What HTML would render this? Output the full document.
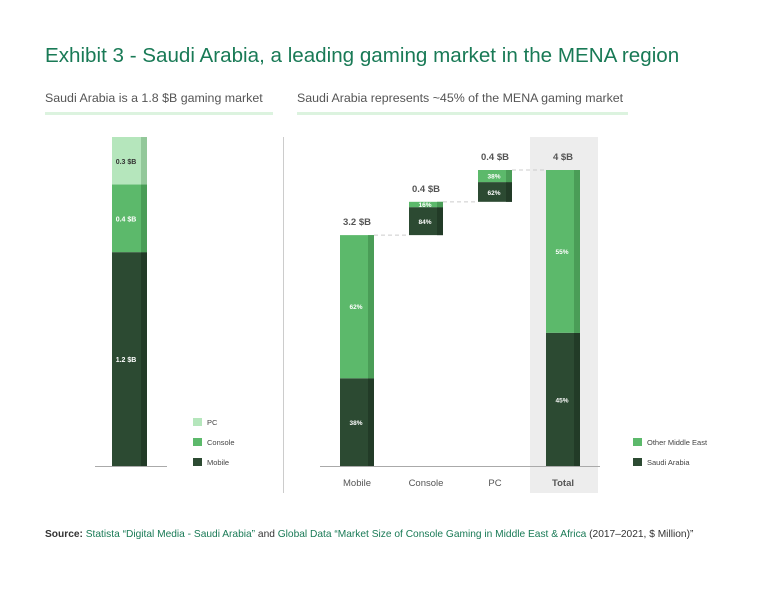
<!DOCTYPE html>
<html><head><meta charset="utf-8">
<style>
body{margin:0;background:#fff;width:768px;height:590px;overflow:hidden;font-family:"Liberation Sans",sans-serif;}
svg text{font-family:"Liberation Sans",sans-serif;}
</style></head>
<body>
<svg id="chart" width="768" height="590" viewBox="0 0 768 590">
<text x="45" y="62" font-size="20.6" fill="#197a56">Exhibit 3 - Saudi Arabia, a leading gaming market in the MENA region</text>
<text x="45" y="102" font-size="12.4" fill="#555">Saudi Arabia is a 1.8 $B gaming market</text>
<rect x="45" y="112" width="228" height="3" fill="#dcf3df"/>
<text x="297" y="102" font-size="12.4" fill="#555">Saudi Arabia represents ~45% of the MENA gaming market</text>
<rect x="297" y="112" width="331" height="3" fill="#dcf3df"/>
<line x1="283.5" y1="137" x2="283.5" y2="493" stroke="#ccc" stroke-width="1"/>
<rect x="530" y="137" width="68" height="356" fill="#ededed"/>
<g id="left"></g><g id="right"></g>
<text x="45" y="537" font-size="10.2" fill="#197a56"><tspan font-weight="bold" fill="#333">Source: </tspan>Statista “Digital Media - Saudi Arabia” <tspan fill="#333">and</tspan> Global Data “Market Size of Console Gaming in Middle East &amp; Africa <tspan fill="#333">(2017–2021, $ Million)”</tspan></text>
</svg>
<script>
const leftCategories=["Mobile","Console","PC"];
const leftValues=[1.17,0.37,0.26];
const leftLabels=["1.2 $B","0.4 $B","0.3 $B"];
const wfCategories=["Mobile","Console","PC","Total"];
const wfValues=[3.12,0.45,0.43,4];
const wfValueLabels=["3.2 $B","0.4 $B","0.4 $B","4 $B"];
const wfSaudiShare=[38,84,62,45];
const NS="http://www.w3.org/2000/svg";
const DARK="#2c4a32",MID="#5cb96b",LIGHT="#b5e6bc";
const SHADE={"#2c4a32":"#223b27","#5cb96b":"#4a9d57","#b5e6bc":"#93c89a"};
function el(tag,attrs,parent,text){const e=document.createElementNS(NS,tag);for(const k in attrs)e.setAttribute(k,attrs[k]);if(text!==undefined)e.textContent=text;parent.appendChild(e);return e;}
function bar(parent,x,y,w,h,color,name){
 const g=el("g",{},parent);
 
 
 el("rect",{x:x,y:y,width:w,height:h,fill:color},g);
 el("rect",{x:x+w-6,y:y,width:6,height:h,fill:SHADE[color]},g);
 return g;}
const L=document.getElementById("left");
const base=466, leftTotal=leftValues.reduce((a,b)=>a+b,0);
const ly=v=>v*329/leftTotal;
let acc=0;const lcolors=[DARK,MID,LIGHT];
leftValues.forEach((v,i)=>{
 const h=ly(v),y=base-ly(acc)-h;
 bar(L,112,y,35,h,lcolors[i],"left-bar-"+leftCategories[i].toLowerCase());
 const t=el("text",{x:126,y:y+h/2+3,"font-size":7,"font-weight":"bold","text-anchor":"middle",fill:i==2?"#333":"#fff"},L,leftLabels[i]);
 
 
 acc+=v;});
el("line",{x1:95,y1:466.5,x2:167,y2:466.5,stroke:"#aaa"},L);
[["PC",LIGHT,418],["Console",MID,438],["Mobile",DARK,458]].forEach(([n,c,y])=>{
 const r=el("rect",{x:193,y:y,width:9,height:8,fill:c},L);
 
 
 const t=el("text",{x:207,y:y+7,"font-size":7.5,fill:"#444"},L,n);
 
 });
const R=document.getElementById("right");
const ry=v=>v*296/wfValues[3];
const xs=[340,409,478,546];
let cum=0;
wfCategories.forEach((c,i)=>{
 const v=wfValues[i];const isTot=i==3;
 const start=isTot?0:cum;
 const h=ry(v),top=base-ry(start)-h;
 const sh=h*wfSaudiShare[i]/100;
 bar(R,xs[i],top+h-sh,34,sh,DARK,"wf-saudi-"+c.toLowerCase());
 bar(R,xs[i],top,34,h-sh,MID,"wf-other-"+c.toLowerCase());
 const fs=6.5;
 const t1=el("text",{x:xs[i]+16,y:top+h-sh/2+3,"font-size":fs,"font-weight":"bold","text-anchor":"middle",fill:"#fff"},R,wfSaudiShare[i]+"%");
 
 
 const t2=el("text",{x:xs[i]+16,y:top+(h-sh)/2+2.5,"font-size":fs,"font-weight":"bold","text-anchor":"middle",fill:"#fff"},R,(100-wfSaudiShare[i])+"%");
 
 
 const t3=el("text",{x:xs[i]+17,y:top-10,"font-size":9.5,"font-weight":"bold","text-anchor":"middle",fill:"#555"},R,wfValueLabels[i]);
 
 
 const t4=el("text",{x:xs[i]+17,y:486,"font-size":9.5,"font-weight":isTot?"bold":"normal","text-anchor":"middle",fill:"#555"},R,c);
 
 
 if(i<3){cum+=v;
  const d=el("line",{x1:xs[i]+34,y1:top,x2:xs[i+1],y2:top,stroke:"#ccc","stroke-dasharray":"4,3"},R);
  
  }
});
el("line",{x1:320,y1:466.5,x2:600,y2:466.5,stroke:"#aaa"},R);
[["Other Middle East",MID,438],["Saudi Arabia",DARK,458]].forEach(([n,c,y])=>{
 const r=el("rect",{x:633,y:y,width:9,height:8,fill:c},R);
 
 
 const t=el("text",{x:647,y:y+7,"font-size":7.5,fill:"#444"},R,n);
 
 });
</script>
</body></html>
